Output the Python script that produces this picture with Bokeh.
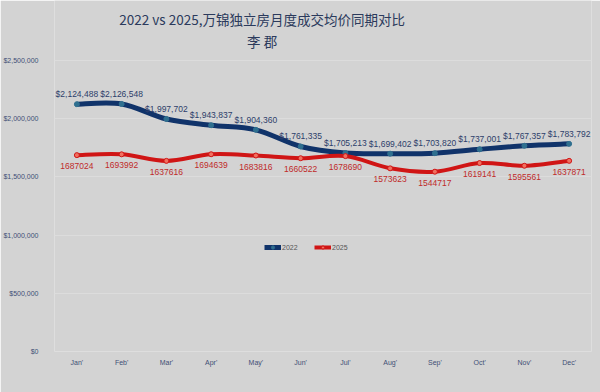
from bokeh.plotting import figure
from bokeh.models import (ColumnDataSource, Range1d, FixedTicker, NumeralTickFormatter,
                          LabelSet, Legend, LegendItem, Label)
from bokeh.core.properties import value
from bokeh.embed import file_html
from bokeh.resources import INLINE

months = ["Jan'", "Feb'", "Mar'", "Apr'", "May'", "Jun'", "Jul'", "Aug'", "Sep'", "Oct'", "Nov'", "Dec'"]
v2022 = [2124488, 2126548, 1997702, 1943837, 1904360, 1761335, 1705213, 1699402, 1703820, 1737001, 1767357, 1783792]
v2025 = [1687024, 1693992, 1637616, 1694639, 1683816, 1660522, 1678690, 1573623, 1544717, 1619141, 1595561, 1637871]
y_ticks = [0, 500000, 1000000, 1500000, 2000000, 2500000]

BG = "#d3d3d3"
NAVY = "#10336a"
RED = "#d01515"
SANS = "Liberation Sans"
CJK = "Noto Sans CJK SC"

# frame spans the full height; axis ticks stop at 2.5M, title area above sits inside the frame
PX = 2500000 / 291.0           # data units per pixel
y_top = 351 * PX

p = figure(width=600, height=392, output_backend="svg", toolbar_location=None,
           x_range=Range1d(-0.5, len(months) - 0.5), y_range=Range1d(0, y_top),
           min_border_left=53, min_border_right=9, min_border_top=0, min_border_bottom=41,
           background_fill_color=BG, border_fill_color=BG, outline_line_color=None)

title_x = (261 - 53) / 44.833 - 0.5
p.add_layout(Label(x=title_x, y=(351 - 18) * PX,
                   text="2022 vs 2025,万锦独立房月度成交均价同期对比", text_align="center",
                   text_baseline="middle", text_font=CJK, text_font_size="13.5px",
                   text_color="#2b3a5c"))
p.add_layout(Label(x=title_x, y=(351 - 40) * PX,
                   text="李 郡", text_align="center", text_baseline="middle",
                   text_font=CJK, text_font_size="13.5px", text_color="#2b3a5c"))

xs = list(range(len(months)))


def bezier_source(vals):
    n = len(vals)
    x0, y0, x1, y1, cx0, cy0, cx1, cy1 = [], [], [], [], [], [], [], []
    for i in range(n - 1):
        pm = i - 1 if i > 0 else i
        pp = i + 2 if i + 2 < n else i + 1
        x0.append(xs[i]); y0.append(vals[i])
        x1.append(xs[i + 1]); y1.append(vals[i + 1])
        cx0.append(xs[i] + (xs[i + 1] - xs[pm]) / 6.0)
        cy0.append(vals[i] + (vals[i + 1] - vals[pm]) / 6.0)
        cx1.append(xs[i + 1] - (xs[pp] - xs[i]) / 6.0)
        cy1.append(vals[i + 1] - (vals[pp] - vals[i]) / 6.0)
    return ColumnDataSource(dict(x0=x0, y0=y0, x1=x1, y1=y1, cx0=cx0, cy0=cy0, cx1=cx1, cy1=cy1))


b22 = p.bezier(x0="x0", y0="y0", x1="x1", y1="y1", cx0="cx0", cy0="cy0", cx1="cx1", cy1="cy1",
               source=bezier_source(v2022), line_color=NAVY, line_width=5)
b25 = p.bezier(x0="x0", y0="y0", x1="x1", y1="y1", cx0="cx0", cy0="cy0", cx1="cx1", cy1="cy1",
               source=bezier_source(v2025), line_color=RED, line_width=4)

src22 = ColumnDataSource(dict(x=xs, y=v2022, lab=["${:,}".format(v) for v in v2022]))
src25 = ColumnDataSource(dict(x=xs, y=v2025, lab=[str(v) for v in v2025]))

s22 = p.scatter("x", "y", source=src22, size=5, fill_color="#2f6f8f", line_color="#2f6f8f")
s25 = p.scatter("x", "y", source=src25, size=5, fill_color="#f07060", line_color=RED, line_width=1)

p.add_layout(LabelSet(x="x", y="y", text="lab", source=src22, y_offset=10, text_align="center",
                      text_baseline="middle", text_font=value(SANS), text_font_size="8.5px",
                      text_color="#2d3e6a"))
p.add_layout(LabelSet(x="x", y="y", text="lab", source=src25, y_offset=-11, text_align="center",
                      text_baseline="middle", text_font=value(SANS), text_font_size="8.5px",
                      text_color="#c02a2a"))

legend = Legend(items=[LegendItem(label="2022", renderers=[b22, s22]),
                       LegendItem(label="2025", renderers=[b25, s25])],
                location=(210, 100), orientation="horizontal", background_fill_alpha=0,
                border_line_color=None, padding=0, margin=0, spacing=12,
                glyph_width=17, glyph_height=8, label_standoff=1,
                label_text_font=SANS, label_text_font_size="7px",
                label_text_color="#555555", label_height=8)
p.add_layout(legend)

# axes
p.xaxis.ticker = FixedTicker(ticks=xs)
p.xaxis.major_label_overrides = {i: m for i, m in enumerate(months)}
p.yaxis.ticker = FixedTicker(ticks=y_ticks)
p.yaxis.formatter = NumeralTickFormatter(format="$0,0")
for ax in (p.xaxis, p.yaxis):
    ax.axis_line_color = None
    ax.major_tick_line_color = None
    ax.minor_tick_line_color = None
    ax.major_label_text_font = SANS
    ax.major_label_text_font_size = "7px"
    ax.major_label_text_color = "#3f4f75"
p.xaxis.major_label_standoff = 1
p.yaxis.major_label_standoff = 10
p.xgrid.grid_line_color = None
p.ygrid.grid_line_color = "#dcdcdc"
p.ygrid.grid_line_width = 1

open("out.html", "w").write(file_html(p, INLINE))
